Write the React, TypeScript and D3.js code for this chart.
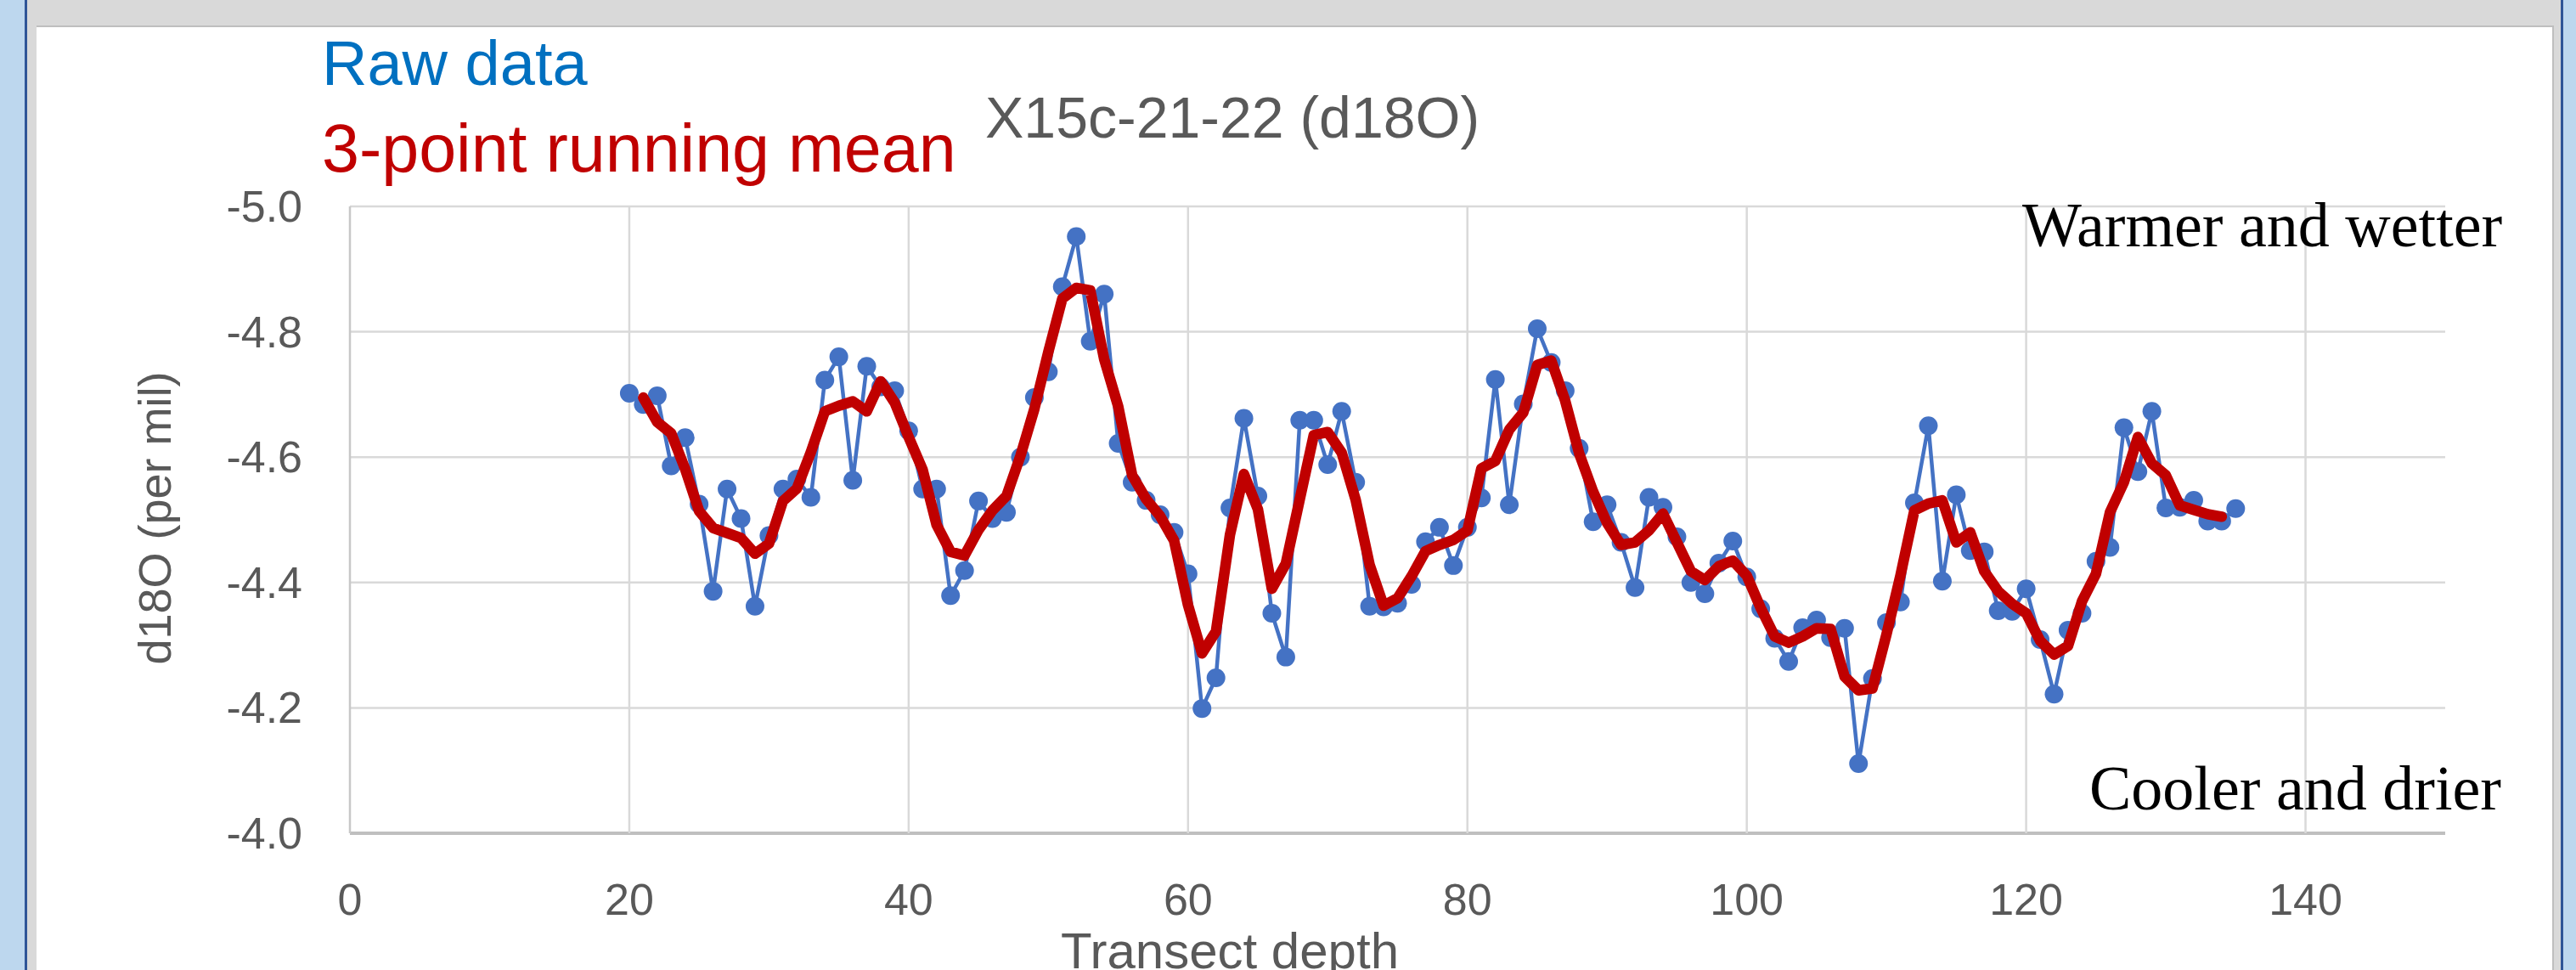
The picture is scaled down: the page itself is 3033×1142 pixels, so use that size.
import React from 'react';
import * as d3 from 'd3';

// transect depth of each raw sample
const depths = d3.range(20, 136);

// raw d18O values, depth 20..135
const rawValues = [
  -4.702, -4.684, -4.698, -4.586, -4.631, -4.525, -4.386, -4.549, -4.502, -4.362,
  -4.475, -4.549, -4.565, -4.536, -4.723, -4.760, -4.563, -4.745, -4.712, -4.706,
  -4.642, -4.549, -4.549, -4.379, -4.419, -4.530, -4.502, -4.512, -4.600, -4.695,
  -4.736, -4.872, -4.952, -4.785, -4.860, -4.622, -4.560, -4.531, -4.508, -4.480,
  -4.414, -4.199, -4.248, -4.519, -4.662, -4.538, -4.351, -4.281, -4.659, -4.659,
  -4.588, -4.673, -4.560, -4.362, -4.361, -4.367, -4.397, -4.465, -4.488, -4.427,
  -4.488, -4.535, -4.724, -4.524, -4.685, -4.805, -4.751, -4.706, -4.614, -4.497,
  -4.524, -4.464, -4.392, -4.536, -4.520, -4.473, -4.400, -4.382, -4.431, -4.466,
  -4.409, -4.358, -4.311, -4.274, -4.328, -4.340, -4.312, -4.327, -4.111, -4.247,
  -4.336, -4.369, -4.527, -4.650, -4.402, -4.540, -4.451, -4.449, -4.355, -4.354,
  -4.390, -4.309, -4.222, -4.324, -4.351, -4.434, -4.456, -4.647, -4.577, -4.673,
  -4.519, -4.520, -4.531, -4.498, -4.498, -4.518,
];

// 3-point running mean, depth 21..134
const meanDepths = d3.range(21, 135);
const meanValues = [
  -4.695, -4.656, -4.638, -4.581, -4.514, -4.487, -4.479, -4.471, -4.446,
  -4.462, -4.530, -4.550, -4.608, -4.673, -4.682, -4.689, -4.673, -4.721, -4.687,
  -4.632, -4.580, -4.492, -4.449, -4.443, -4.484, -4.515, -4.538, -4.602, -4.677,
  -4.768, -4.853, -4.870, -4.866, -4.756, -4.681, -4.571, -4.533, -4.506, -4.467,
  -4.364, -4.287, -4.322, -4.476, -4.573, -4.517, -4.390, -4.430, -4.533, -4.635,
  -4.640, -4.607, -4.532, -4.428, -4.363, -4.375, -4.410, -4.450, -4.460, -4.468,
  -4.483, -4.582, -4.594, -4.644, -4.671, -4.747, -4.754, -4.690, -4.606, -4.545,
  -4.495, -4.460, -4.464, -4.483, -4.510, -4.464, -4.418, -4.404, -4.426, -4.435,
  -4.411, -4.359, -4.314, -4.304, -4.314, -4.327, -4.326, -4.250, -4.228, -4.231,
  -4.317, -4.411, -4.515, -4.526, -4.531, -4.464, -4.480, -4.418, -4.386, -4.366,
  -4.351, -4.307, -4.285, -4.299, -4.370, -4.414, -4.512, -4.560, -4.632, -4.590,
  -4.571, -4.523, -4.516, -4.509, -4.505,
];

const xTicks = [0, 20, 40, 60, 80, 100, 120, 140];
const yTicks = [-5.0, -4.8, -4.6, -4.4, -4.2, -4.0];

const W = 3033;
const H = 1142;
const sans = '"Liberation Sans", Arial, sans-serif';
const serif = '"Liberation Serif", "Times New Roman", serif';

export default function App() {
  const x = d3.scaleLinear().domain([0, 150]).range([412, 2879]);
  const y = d3.scaleLinear().domain([-5, -4]).range([243, 981]);

  const raw = depths.map((d, i) => ({ d, v: rawValues[i] }));
  const mean = meanDepths.map((d, i) => ({ d, v: meanValues[i] }));

  const line = d3.line<{ d: number; v: number }>()
    .x(p => x(p.d))
    .y(p => y(p.v));

  return (
    <svg width={W} height={H} style={{ position: 'absolute', left: 0, top: 0 }}>
      {/* window frame */}
      <rect x={0} y={0} width={W} height={H} fill="#d9d9d9" />
      <rect x={0} y={0} width={29} height={H} fill="#bdd7ee" />
      <rect x={29} y={0} width={3} height={H} fill="#2f5597" />
      <rect x={3018} y={0} width={15} height={H} fill="#bdd7ee" />
      <rect x={3015} y={0} width={3} height={H} fill="#2f5597" />
      <rect x={43} y={30} width={2964} height={H} fill="#bfbfbf" />
      <rect x={43} y={32} width={2962} height={H} fill="#ffffff" />

      {/* grid */}
      {yTicks.map(t => (
        <line key={'h' + t} x1={x(0)} x2={x(150)} y1={y(t)} y2={y(t)}
          stroke={t === -4.0 ? '#bfbfbf' : '#d9d9d9'} strokeWidth={t === -4.0 ? 4 : 2.5} />
      ))}
      {xTicks.map(t => (
        <line key={'v' + t} x1={x(t)} x2={x(t)} y1={y(-5)} y2={y(-4)}
          stroke={t === 0 ? '#c8c8c8' : '#d9d9d9'} strokeWidth={2.5} />
      ))}

      {/* tick labels */}
      {yTicks.map(t => (
        <text key={'yl' + t} x={356} y={y(t) + 18} textAnchor="end"
          fontFamily={sans} fontSize={52} fill="#595959">{t.toFixed(1)}</text>
      ))}
      {xTicks.map(t => (
        <text key={'xl' + t} x={x(t)} y={1077} textAnchor="middle"
          fontFamily={sans} fontSize={52} fill="#595959">{t}</text>
      ))}

      {/* axis titles */}
      <text transform="translate(201,610) rotate(-90)" textAnchor="middle"
        fontFamily={sans} fontSize={54} fill="#595959">d18O (per mil)</text>
      <text x={1448} y={1140} textAnchor="middle"
        fontFamily={sans} fontSize={60} fill="#595959">Transect depth</text>

      {/* raw series */}
      <path d={line(raw) ?? ''} fill="none" stroke="#4472c4" strokeWidth={4.5} strokeLinejoin="round" />
      {raw.map(p => (
        <circle key={'c' + p.d} cx={x(p.d)} cy={y(p.v)} r={11} fill="#4472c4" />
      ))}

      {/* running mean */}
      <path d={line(mean) ?? ''} fill="none" stroke="#c00000" strokeWidth={12.5}
        strokeLinejoin="round" strokeLinecap="round" />

      {/* title and legend-like labels */}
      <text x={1160} y={162} fontFamily={sans} fontSize={68} fill="#595959">X15c-21-22 (d18O)</text>
      <text x={379} y={100} fontFamily={sans} fontSize={74} fill="#0070c0">Raw data</text>
      <text x={379} y={202} fontFamily={sans} fontSize={79} fill="#c00000">3-point running mean</text>

      {/* annotations */}
      <text x={2381} y={290} fontFamily={serif} fontSize={74} fill="#000000">Warmer and wetter</text>
      <text x={2460} y={953} fontFamily={serif} fontSize={74} fill="#000000">Cooler and drier</text>
    </svg>
  );
}
